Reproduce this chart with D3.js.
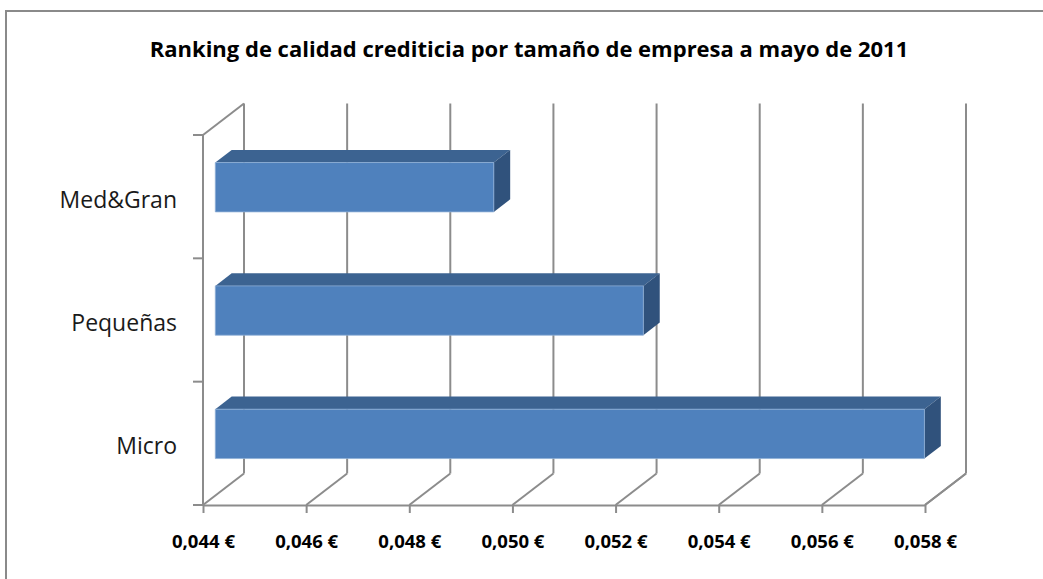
<!DOCTYPE html>
<html>
<head>
<meta charset="utf-8">
<script src="https://cdn.jsdelivr.net/npm/d3@7"></script>
<style>
  body { margin: 0; background: #fff; }
  text { font-family: "Open Sans", "DejaVu Sans", sans-serif; }
</style>
</head>
<body>
<div id="chart"></div>
<script>
// data
var categories = ["Med&Gran", "Pequeñas", "Micro"];
var values = [0.0494, 0.0523, 0.05775];
var tickValues = [0.044, 0.046, 0.048, 0.050, 0.052, 0.054, 0.056, 0.058];
var title = "Ranking de calidad crediticia por tamaño de empresa a mayo de 2011";

var svgWidth = 1043;
var svgHeight = 579;

// plot box (front plane) and depth offset
var plotLeft = 203, plotRight = 925, plotTop = 135, plotBottom = 505;
var depthX = 41, depthY = 31.5;
var barZ0 = 0.3, barZ1 = 0.7;

var gridColor = "#8c8c8c";

var svg = d3.select("#chart")
  .append("svg")
  .attr("width", svgWidth)
  .attr("height", svgHeight);

// outer border
svg.append("rect")
  .attr("x", 6)
  .attr("y", 11)
  .attr("width", 1060)
  .attr("height", 600)
  .attr("fill", "#fff")
  .attr("stroke", "#8a8a8a")
  .attr("stroke-width", 2);

// title
svg.append("text")
  .attr("x", 529)
  .attr("y", 57)
  .attr("text-anchor", "middle")
  .style("font-size", "22px")
  .style("font-weight", "bold")
  .attr("fill", "#000")
  .text(title);

var xScale = d3.scaleLinear()
  .domain([tickValues[0], tickValues[tickValues.length - 1]])
  .range([plotLeft, plotRight]);

var yScale = d3.scaleBand()
  .domain(categories)
  .range([plotTop, plotBottom])
  .paddingInner(0.6)
  .paddingOuter(0.3);

// project point (x on front plane, y on front plane, depth z 0..1)
function proj(px, py, z) {
  return [px + depthX * z, py - depthY * z];
}

var chartGroup = svg.append("g");

// back wall vertical gridlines
chartGroup.selectAll(".back-grid")
  .data(tickValues)
  .enter()
  .append("line")
  .attr("x1", d => xScale(d) + depthX)
  .attr("x2", d => xScale(d) + depthX)
  .attr("y1", plotBottom - depthY)
  .attr("y2", plotTop - depthY)
  .attr("stroke", gridColor)
  .attr("stroke-width", 2);

// floor gridlines (diagonals)
chartGroup.selectAll(".floor-grid")
  .data(tickValues)
  .enter()
  .append("line")
  .attr("x1", d => xScale(d))
  .attr("y1", plotBottom)
  .attr("x2", d => xScale(d) + depthX)
  .attr("y2", plotBottom - depthY)
  .attr("stroke", gridColor)
  .attr("stroke-width", 2);

// left wall: front edge and top edge
chartGroup.append("line")
  .attr("x1", plotLeft).attr("y1", plotTop)
  .attr("x2", plotLeft).attr("y2", plotBottom)
  .attr("stroke", gridColor)
  .attr("stroke-width", 2);

chartGroup.append("line")
  .attr("x1", plotLeft).attr("y1", plotTop)
  .attr("x2", plotLeft + depthX).attr("y2", plotTop - depthY)
  .attr("stroke", gridColor)
  .attr("stroke-width", 2);

// category boundary ticks on the left axis
var boundaries = d3.range(categories.length + 1).map(i => plotTop + i * yScale.step());
chartGroup.selectAll(".cat-tick")
  .data(boundaries)
  .enter()
  .append("line")
  .attr("x1", plotLeft - 10)
  .attr("x2", plotLeft)
  .attr("y1", d => d)
  .attr("y2", d => d)
  .attr("stroke", gridColor)
  .attr("stroke-width", 2);

// category labels
chartGroup.selectAll(".cat-label")
  .data(categories)
  .enter()
  .append("text")
  .attr("x", 177)
  .attr("y", d => yScale(d) + yScale.bandwidth() / 2 + 3)
  .attr("dy", "0.35em")
  .attr("text-anchor", "end")
  .style("font-size", "23px")
  .attr("fill", "#1a1a1a")
  .text(d => d);

// bottom axis (front floor edge)
var locale = d3.formatLocale({ decimal: ",", thousands: ".", grouping: [3], currency: ["", " €"] });
var fmt = locale.format(".3f");

var bottomAxis = d3.axisBottom(xScale)
  .tickValues(tickValues)
  .tickSize(8)
  .tickSizeOuter(0)
  .tickPadding(22)
  .tickFormat(d => fmt(d) + " €");

var xAxis = svg.append("g")
  .attr("transform", `translate(0, ${plotBottom})`)
  .call(bottomAxis);

xAxis.select(".domain")
  .attr("stroke", gridColor)
  .attr("stroke-width", 2);
xAxis.selectAll(".tick line")
  .attr("stroke", gridColor)
  .attr("stroke-width", 2);
xAxis.selectAll(".tick text")
  .style("font-size", "18.5px")
  .style("font-weight", "bold")
  .style("font-family", "'Open Sans', sans-serif")
  .attr("fill", "#000");

// right end of floor
svg.append("line")
  .attr("x1", plotRight).attr("y1", plotBottom)
  .attr("x2", plotRight + depthX).attr("y2", plotBottom - depthY)
  .attr("stroke", gridColor)
  .attr("stroke-width", 2);

// 3D bars
var barsGroup = svg.append("g");

categories.forEach(function (cat, i) {
  var v = values[i];
  var x0 = xScale(tickValues[0]);
  var x1 = xScale(v);
  var yT = yScale(cat);
  var yB = yT + yScale.bandwidth();

  var ftl = proj(x0, yT, barZ0), ftr = proj(x1, yT, barZ0);
  var fbl = proj(x0, yB, barZ0), fbr = proj(x1, yB, barZ0);
  var btl = proj(x0, yT, barZ1), btr = proj(x1, yT, barZ1);
  var bbr = proj(x1, yB, barZ1);

  // top face
  barsGroup.append("polygon")
    .attr("points", [ftl, ftr, btr, btl].map(p => p.join(",")).join(" "))
    .attr("fill", "#3c6391");

  // right side face
  barsGroup.append("polygon")
    .attr("points", [ftr, btr, bbr, fbr].map(p => p.join(",")).join(" "))
    .attr("fill", "#30527c");

  // front face
  barsGroup.append("polygon")
    .attr("points", [ftl, ftr, fbr, fbl].map(p => p.join(",")).join(" "))
    .attr("fill", "#4f81bd")
    .attr("stroke", "#8eaed6")
    .attr("stroke-width", 0.8);
});
</script>
</body>
</html>
